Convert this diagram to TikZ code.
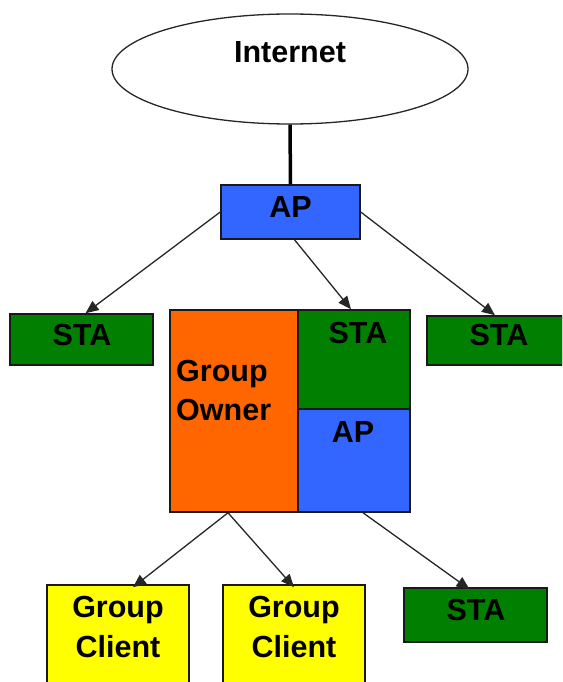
\documentclass[tikz,border=0pt]{standalone}
\usepackage{fontspec}
\setmainfont{Liberation Sans}
\usetikzlibrary{arrows.meta,shapes.geometric}
\definecolor{apblue}{HTML}{3366FF}
\definecolor{stagreen}{HTML}{007F00}
\definecolor{goorange}{HTML}{FF6600}
\definecolor{gcyellow}{HTML}{FFFF00}
\tikzset{
  box/.style={draw=black!90, line width=1.5pt, inner sep=0pt, rectangle},
  lbl/.style={anchor=base, inner sep=0pt, font=\fontsize{30.5}{30.5}\selectfont\bfseries},
  lbll/.style={anchor=base west, inner sep=0pt, font=\fontsize{30.5}{30.5}\selectfont\bfseries},
  conn/.style={draw=black!85, line width=1.3pt, -{Triangle[length=13pt,width=11pt]}},
}
\begin{document}
\begin{tikzpicture}[x=1pt,y=-1pt]
\path[use as bounding box] (0,0) rectangle (562,682);
\clip (0,0) rectangle (562,682);
% Internet
\node[ellipse, draw=black!85, line width=1.3pt, fill=white, minimum width=356pt, minimum height=110pt, inner sep=0pt] (inet) at (290,69) {};
\node[lbl] (inetT) at (290,63) {Internet};
% AP
\node[box, fill=apblue, minimum width=139pt, minimum height=54pt] (ap) at (290.5,212) {};
\node[lbl] (apT) at (290.5,217) {AP};
% STA left
\node[box, fill=stagreen, minimum width=143pt, minimum height=51pt] (staL) at (81.5,339.5) {};
\node[lbl] (staLT) at (82,345) {STA};
% Group owner
\node[box, fill=goorange, minimum width=128pt, minimum height=202pt] (go) at (234,411) {};
\node[lbll] (goT1) at (176,381) {Group};
\node[lbll] (goT2) at (176,420) {Owner};
\node[box, fill=stagreen, minimum width=112pt, minimum height=99pt] (gsta) at (354,359.5) {};
\node[lbl] (gstaT) at (358,343) {STA};
\node[box, fill=apblue, minimum width=112pt, minimum height=103pt] (gap) at (354,460.5) {};
\node[lbl] (gapT) at (353,442) {AP};
% STA right
\node[box, fill=stagreen, minimum width=136pt, minimum height=49pt] (staR) at (495,340.5) {};
\node[lbl] (staRT) at (499,345) {STA};
% Clients
\node[box, fill=gcyellow, minimum width=142pt, minimum height=110pt] (gc1) at (118,640) {};
\node[lbl] (gc1T1) at (118,617) {Group};
\node[lbl] (gc1T2) at (118,657) {Client};
\node[box, fill=gcyellow, minimum width=142pt, minimum height=110pt] (gc2) at (294,640) {};
\node[lbl] (gc2T1) at (294,617) {Group};
\node[lbl] (gc2T2) at (294,657) {Client};
% STA bottom
\node[box, fill=stagreen, minimum width=143pt, minimum height=54pt] (staB) at (475.5,615) {};
\node[lbl] (staBT) at (476,620) {STA};
% connectors
\draw[line width=3.5pt, black] (inet.south) -- (ap.north);
\draw[conn] (ap.west) -- ([xshift=4pt]staL.north);
\draw[conn] ([xshift=4pt]ap.south) -- ([xshift=-3pt]gsta.north);
\draw[conn] (ap.east) -- (staR.north);
\draw[conn] ([xshift=-6pt]go.south) -- ([xshift=15pt,yshift=-3pt]gc1.north);
\draw[conn] ([xshift=-6pt]go.south) -- ([yshift=-3pt]gc2.north);
\draw[conn] ([xshift=9pt]gap.south) -- ([xshift=-6pt,yshift=-2pt]staB.north);
\end{tikzpicture}
\end{document}
